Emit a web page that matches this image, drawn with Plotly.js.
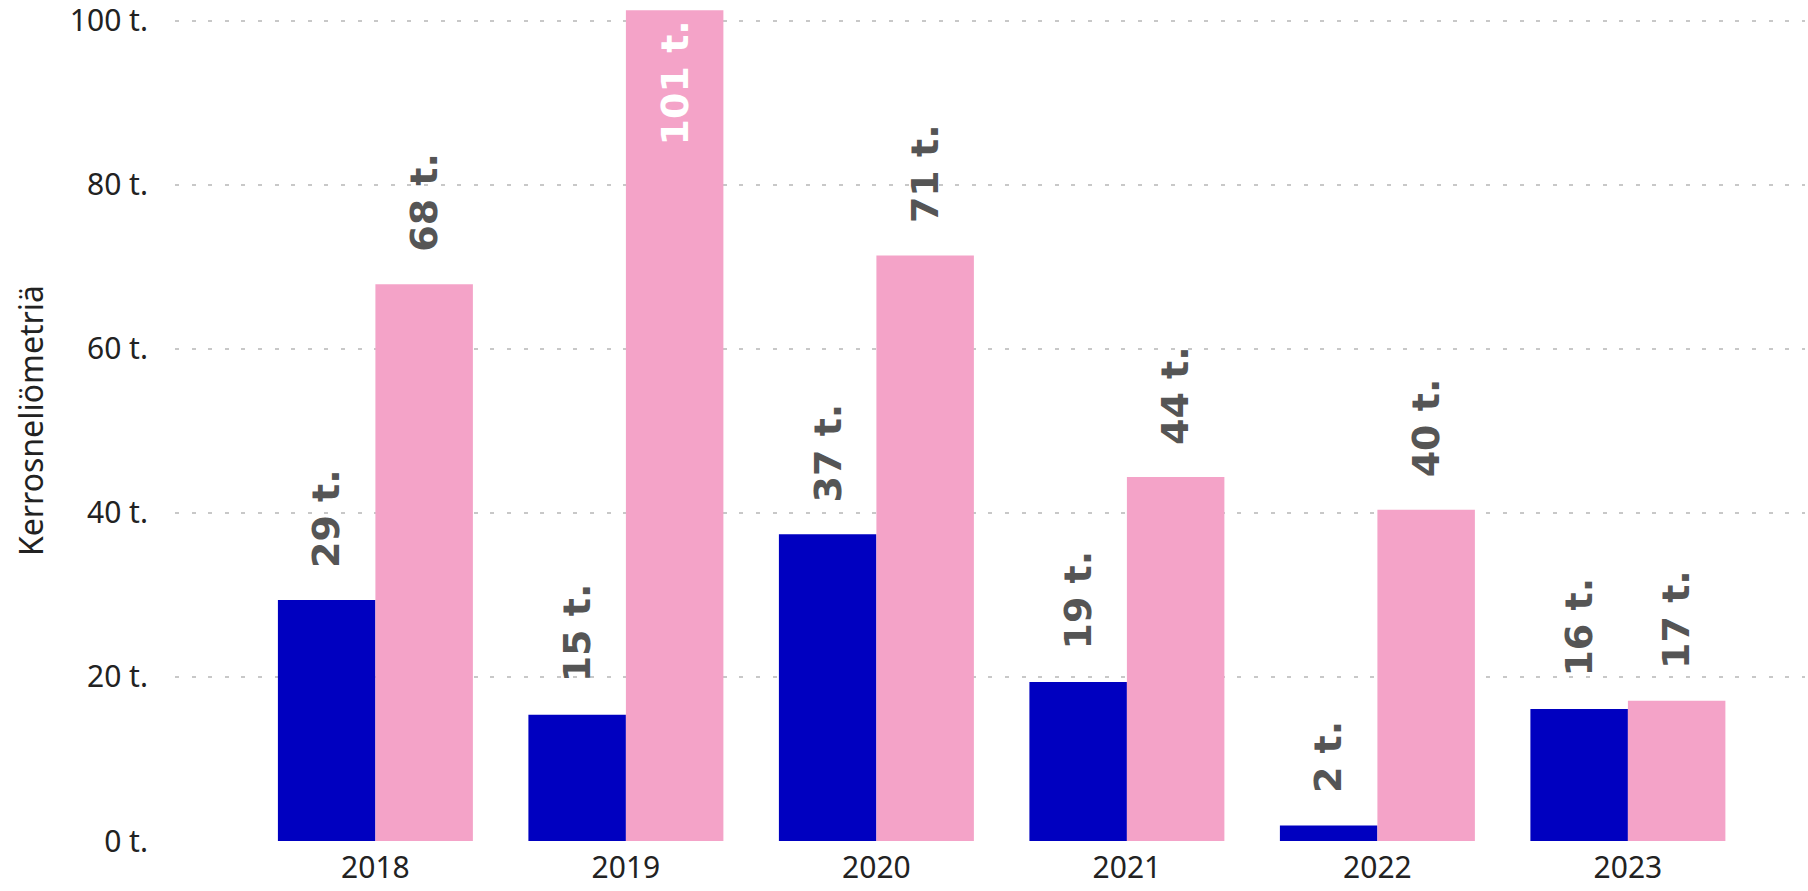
<!DOCTYPE html>
<html>
<head>
<meta charset="utf-8">
<script src="https://cdn.plot.ly/plotly-3.0.1.min.js"></script>
<style>
  html, body { margin: 0; padding: 0; background: #ffffff; }
  #chart { width: 1808px; height: 891px; }
</style>
</head>
<body>
<div id="chart"></div>
<script>
// ---- data (thousands of floor square metres) ----
const years = ['2018', '2019', '2020', '2021', '2022', '2023'];
const seriesBlue = [29.4, 15.4, 37.4, 19.4, 1.9, 16.1];
const seriesPink = [67.9, 101.3, 71.4, 44.4, 40.4, 17.1];
const yTickVals = [0, 20, 40, 60, 80, 100];
const yTitle = 'Kerrosneliömetriä';
const unitSuffix = ' t.';

// ---- style ----
const blue = '#0000C0';
const pink = '#F4A3C8';
const W = 1808, H = 891;
const margin = { l: 175, r: 3, t: 0, b: 50 };
const xRange = [-0.8, 5.707];
const yRange = [0, 102.55];
const bargap = 0.2216;

const plotW = W - margin.l - margin.r;
const catPx = plotW / (xRange[1] - xRange[0]);
const barPx = catPx * (1 - bargap) / 2;

const traces = [
  { type: 'bar', x: years, y: seriesBlue, marker: { color: blue }, hoverinfo: 'none', name: 'A' },
  { type: 'bar', x: years, y: seriesPink, marker: { color: pink }, hoverinfo: 'none', name: 'B' }
];

const annotations = [];
[seriesBlue, seriesPink].forEach((series, i) => {
  const off = (i === 0 ? -1 : 1) * barPx / 2;
  series.forEach((v, j) => {
    const inside = v > 90;
    annotations.push({
      x: j, y: v, xref: 'x', yref: 'y',
      text: '<b>' + Math.round(v) + unitSuffix + '</b>',
      textangle: -90, showarrow: false,
      xshift: off,
      yanchor: inside ? 'top' : 'bottom',
      yshift: inside ? -8 : 30,
      font: { family: 'DejaVu Sans', size: 38, color: inside ? '#ffffff' : '#555555' }
    });
  });
});

const layout = {
  width: W, height: H,
  margin: margin,
  paper_bgcolor: '#ffffff', plot_bgcolor: '#ffffff',
  barmode: 'group', bargap: bargap, bargroupgap: 0,
  showlegend: false,
  font: { family: 'Noto Sans', color: '#222222' },
  xaxis: {
    type: 'category', range: xRange, showgrid: false, zeroline: false,
    showline: false, ticks: '', ticklabelstandoff: 6,
    tickfont: { family: 'Noto Sans', size: 30, color: '#222222' },
    fixedrange: true
  },
  yaxis: {
    range: yRange, tickmode: 'array', tickvals: yTickVals,
    ticktext: yTickVals.map(v => v + unitSuffix),
    showgrid: true, gridcolor: '#c8c8c8', gridwidth: 2, griddash: '4px,12.6px',
    zeroline: false, showline: false, ticks: '', ticklabelstandoff: 26,
    ticklabeloverflow: 'allow',
    tickfont: { family: 'Noto Sans', size: 30, color: '#222222' },
    title: { text: yTitle, font: { family: 'Noto Sans', size: 32, color: '#222222' }, standoff: 16 },
    automargin: false,
    fixedrange: true
  },
  annotations: annotations
};

Plotly.newPlot('chart', traces, layout, { displayModeBar: false, staticPlot: true })
  .catch(e => document.body.insertAdjacentHTML('beforeend', '<pre>' + e + '</pre>'));
</script>
</body>
</html>
